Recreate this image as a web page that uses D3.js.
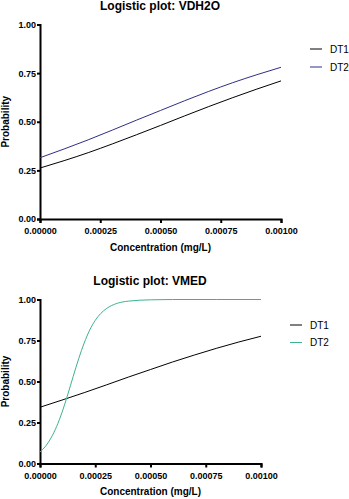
<!DOCTYPE html>
<html><head><meta charset="utf-8">
<script src="https://cdn.jsdelivr.net/npm/d3@7"></script>
<style>body{margin:0;background:#fff}svg{display:block}</style>
</head><body>
<svg id="c" width="349" height="499"></svg>
<script>
const xTicks = [0, 0.00025, 0.0005, 0.00075, 0.001];
const xTickLabels = ["0.00000","0.00025","0.00050","0.00075","0.00100"];
const yTicks = [0, 0.25, 0.5, 0.75, 1];
const yTickLabels = ["0.00","0.25","0.50","0.75","1.00"];
const seriesNames = ["DT1","DT2"];

const concA = [0,0.0001,0.0002,0.0003,0.0004,0.0005,0.0006,0.0007,0.0008,0.0009,0.001];
const vdh2oDT1 = [0.262,0.300,0.341,0.386,0.433,0.481,0.530,0.578,0.624,0.668,0.710];
const vdh2oDT2 = [0.315,0.360,0.407,0.457,0.508,0.558,0.608,0.656,0.701,0.742,0.780];

const vmedDT1 = [0.343,0.387,0.432,0.479,0.527,0.573,0.619,0.662,0.703,0.741,0.776];
const concB = [0,0.000025,0.00005,0.000075,0.0001,0.000125,0.00015,0.000175,0.0002,0.000225,0.00025,0.000275,0.0003,0.00035,0.0004,0.0005,0.0006,0.0008,0.001];
const vmedDT2 = [0.070,0.105,0.156,0.225,0.313,0.418,0.530,0.639,0.735,0.814,0.873,0.915,0.944,0.977,0.990,0.998,1.000,1.000,1.000];

const svg = d3.select("#c");
const font = "Arial, 'Liberation Sans', sans-serif";

function panel(cfg){
  const g = svg.append("g");
  const x = d3.scaleLinear().domain([0,0.001]).range([cfg.x0,cfg.x1]);
  const y = d3.scaleLinear().domain([0,1]).range([cfg.y0,cfg.y1]);
  g.append("text").attr("x",cfg.titleX).attr("y",cfg.titleY).attr("text-anchor","middle")
    .attr("font-family",font).attr("font-weight","bold").attr("font-size",12).text(cfg.title);
  const xa = g.append("g").attr("transform",`translate(0,${cfg.y0})`)
    .call(d3.axisBottom(x).tickValues(xTicks).tickFormat((d,i)=>xTickLabels[i]).tickSize(4).tickPadding(5));
  const ya = g.append("g").attr("transform",`translate(${cfg.x0},0)`)
    .call(d3.axisLeft(y).tickValues(yTicks).tickFormat((d,i)=>yTickLabels[i]).tickSize(3).tickPadding(1));
  [xa,ya].forEach(a=>{
    a.select(".domain").attr("stroke","#000").attr("stroke-width",2);
    a.selectAll(".tick line").attr("stroke","#000").attr("stroke-width",2);
    a.selectAll("text").attr("font-family",font).attr("font-weight","bold").attr("font-size",9).attr("fill","#000");
  });
  g.append("text").attr("x",(cfg.x0+cfg.x1)/2).attr("y",cfg.xlabY).attr("text-anchor","middle")
    .attr("font-family",font).attr("font-weight","bold").attr("font-size",10).text("Concentration (mg/L)");
  g.append("text").attr("transform",`translate(8.5,${(cfg.y0+cfg.y1)/2}) rotate(-90)`).attr("text-anchor","middle")
    .attr("font-family",font).attr("font-weight","bold").attr("font-size",10).text("Probability");
  const line = d3.line().x(d=>x(d[0])).y(d=>y(d[1])).curve(d3.curveMonotoneX);
  cfg.series.forEach((s,i)=>{
    g.append("path").datum(d3.zip(s.xs,s.ys)).attr("fill","none").attr("stroke",s.color)
      .attr("stroke-width",1).attr("d",line);
    const ly = cfg.legY + i*cfg.legGap;
    g.append("line").attr("x1",cfg.legX).attr("x2",cfg.legX+12).attr("y1",ly).attr("y2",ly)
      .attr("stroke",s.color).attr("stroke-width",1);
    g.append("text").attr("x",cfg.legX+20).attr("y",ly+3.5).attr("font-family",font)
      .attr("font-size",10).text(seriesNames[i]);
  });
}

panel({x0:40,x1:281,y0:219,y1:24.5,title:"Logistic plot: VDH2O",titleX:160,titleY:10,xlabY:251,
  legX:310,legY:49,legGap:18,
  series:[{xs:concA,ys:vdh2oDT1,color:"#000000"},{xs:concA,ys:vdh2oDT2,color:"#2e2e86"}]});
panel({x0:40,x1:261,y0:463.5,y1:299.5,title:"Logistic plot: VMED",titleX:150,titleY:285,xlabY:495,
  legX:290,legY:325,legGap:17.5,
  series:[{xs:concA,ys:vmedDT1,color:"#000000"},{xs:concB,ys:vmedDT2,color:"#3cb293"}]});
</script>
</body></html>
